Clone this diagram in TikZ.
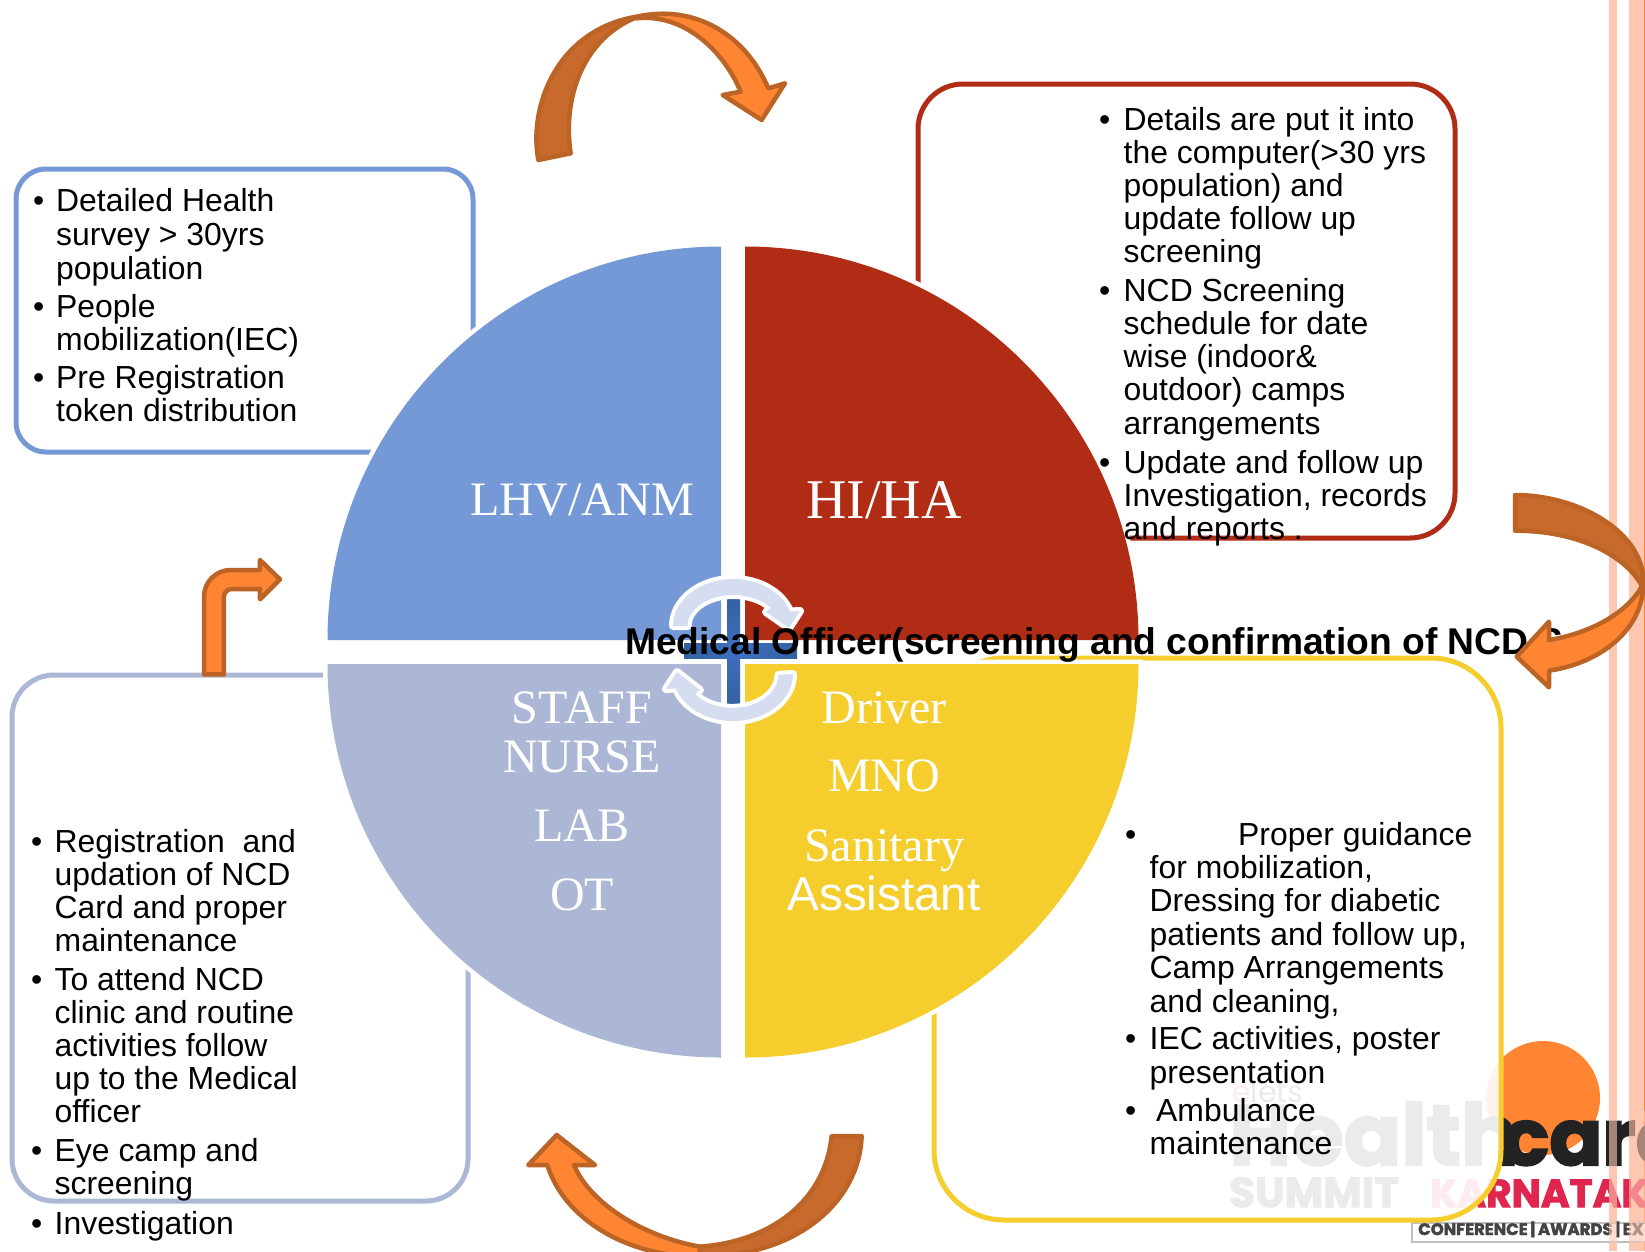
\documentclass[tikz,border=0pt]{standalone}
\usepackage{fontspec}
\setmainfont{Liberation Sans}
\newfontfamily\serifq{Liberation Serif}
\newfontfamily\logof[BoldFeatures={FakeBold=2.5}]{Poppins}
\definecolor{qblue}{HTML}{7599D6}
\definecolor{qred}{HTML}{B02C14}
\definecolor{qperi}{HTML}{ABB7D5}
\definecolor{qyel}{HTML}{F5CE2D}
\definecolor{arrD}{HTML}{C86A2B}
\definecolor{arrL}{HTML}{FF8533}
\definecolor{arrE}{HTML}{BC6326}
\definecolor{stripe}{HTML}{FEC7B2}
\definecolor{cyc}{HTML}{D6DDF0}
\definecolor{crossb}{HTML}{3F70C0}
\definecolor{crossd}{HTML}{33609F}
\definecolor{karn}{HTML}{E0254F}
\definecolor{logod}{HTML}{222222}
\tikzset{
  txt/.style={anchor=base west,inner sep=0pt,font=\fontsize{31.9}{33}\selectfont,text=black},
  ttl/.style={anchor=base west,inner sep=0pt,font=\fontsize{37.2}{38}\selectfont\bfseries,text=black},
  qlab/.style={anchor=base,inner sep=0pt,text=white,font=\fontsize{48}{48}\serifq},
  qsans/.style={anchor=base,inner sep=0pt,text=white,font=\fontsize{47.5}{47}\selectfont},
  pie/.style={fill=#1,preaction={draw=white,line width=9pt}},
  ibox/.style={line width=5pt,fill=white,rounded corners=#1},
  bigarrow/.style={draw=arrE,line width=4.5pt,line join=round},
  cycarrow/.style={fill=cyc,preaction={draw=white,line width=8pt,line join=round}},
  logotxt/.style={anchor=base west,inner sep=0pt},
}
\newcommand{\bul}[3]{\node[txt] (#1) at (#2,#3) {•};}
\newcommand{\para}[5]{\foreach \t [count=\i] in {#5}{\node[txt] (#1\i) at (#2,{#3+(\i-1)*#4}) {\t};}}
\begin{document}
\begin{tikzpicture}[x=1pt,y=-1pt]
\clip (0,0) rectangle (1645,1251);
\fill[white] (0,0) rectangle (1645,1251);
% slide stripes
\fill[stripe] (1609,0) rectangle (1617,1251);
\fill[stripe] (1629,0) rectangle (1645,1251);
\fill[arrL] (1643.5,0) rectangle (1645,1251);
% logo
\fill[arrL] (1543,1098) circle (57);
\node[logotxt,text=logod,font=\fontsize{85}{86}\logof\bfseries] (lhealth) at (1229,1165) {Health};
\node[logotxt,text=logod,font=\fontsize{78}{80}\logof\bfseries] (lcare) at (1502,1165) {care};
\node[logotxt,text=karn,font=\fontsize{39}{39}\logof\bfseries] (lkar) at (1430,1207) {KARNATAK};
\node[logotxt,text=logod,font=\fontsize{42}{42}\logof\bfseries] (lsum) at (1229,1207) {SUMMIT};
\node[logotxt,text=logod,font=\fontsize{30}{30}\logof] (lets) at (1232,1102) {\textcolor{karn}{e}lets};
\draw[black!25,line width=1.5pt,fill=white] (1412,1223) rectangle (1660,1242);
\node[logotxt,text=logod!85,font=\fontsize{16.5}{17}\logof\bfseries] (lconf) at (1418,1235) {CONFERENCE\,|\,AWARDS\,|\,EX};
\fill[stripe,opacity=.6] (1609,1110) rectangle (1617,1251);
\fill[stripe,opacity=.6] (1629,1110) rectangle (1645,1251);
% text boxes
\draw[qblue,ibox=30pt] (16,169) rectangle (473,452);
\draw[qred,ibox=45pt] (918,84) rectangle (1455,538);
\draw[qperi,ibox=42pt] (12,675) rectangle (468,1201);
\path[fill=white,fill opacity=.91,rounded corners=70pt] (934,658) rectangle (1501,1220);
\draw[qyel,line width=5pt,rounded corners=70pt] (934,658) rectangle (1501,1220);
% quadrants
\path[pie=qblue] (721,640) -- (327.5,640) arc[start angle=180,end angle=270,radius=393.5] -- cycle;
\path[pie=qred] (745,640) -- (745,246.5) arc[start angle=270,end angle=360,radius=393.5] -- cycle;
\path[pie=qperi] (721,664) -- (721,1057.5) arc[start angle=90,end angle=180,radius=393.5] -- cycle;
\path[pie=qyel] (745,664) -- (1138.5,664) arc[start angle=0,end angle=90,radius=393.5] -- cycle;
\node[qlab] (qa) at (582,515) {LHV/ANM};
\node[qlab,font=\fontsize{56}{56}\serifq] (qb) at (884,518) {HI/HA};
\node[qlab] (qc1) at (582,723) {STAFF};
\node[qlab] (qc2) at (582,772) {NURSE};
\node[qlab] (qc3) at (582,841) {LAB};
\node[qlab] (qc4) at (582,910) {OT};
\node[qlab] (qd1) at (884,723) {Driver};
\node[qlab] (qd2) at (884,791) {MNO};
\node[qlab] (qd3) at (884,861) {Sanitary};
\node[qsans] (qd4) at (884,910) {Assistant};
% central cross
\shade[left color=crossd,right color=crossd,middle color=crossb] (684,643) rectangle (797,658);
\shade[top color=crossd,bottom color=crossd,middle color=crossb] (727,595) rectangle (740,709);
% central cycle arrows
\path[cycarrow] (673,626) arc[start angle=180,end angle=342,x radius=60,y radius=47] -- (800,611) -- (789,628) -- (766,612) -- (771,608) arc[start angle=324.5,end angle=180,x radius=46,y radius=31] -- cycle;
\path[cycarrow] (793,674) arc[start angle=0,end angle=162,x radius=60,y radius=47] -- (666,689) -- (677,672) -- (700,690) -- (695,694) arc[start angle=144.5,end angle=0,x radius=46,y radius=33] -- cycle;
% texts
\bul{bb1}{33}{211}\bul{bb2}{33}{317}\bul{bb3}{33}{388}
\para{ba}{56}{211}{34}{Detailed Health,survey > 30yrs,population}
\para{bc}{56}{317}{33.5}{People,mobilization(IEC)}
\para{bd}{56}{388}{33.5}{Pre Registration,token distribution}
\bul{rb1}{1099}{130}\bul{rb2}{1099}{301}\bul{rb3}{1099}{473}
\para{ra}{1123.5}{130}{33.2}{Details are put it into,the computer(>30 yrs,population) and,update follow up,screening}
\para{rc}{1123.5}{301}{33.3}{NCD Screening,schedule for date,wise (indoor\&,outdoor) camps,arrangements}
\para{rd}{1123.5}{473}{33.2}{Update and follow up,{Investigation, records},and reports .}
\bul{pb1}{31}{852}\bul{pb2}{31}{990}\bul{pb3}{31}{1161}\bul{pb4}{31}{1234}
\para{pa}{54.5}{852}{33.3}{Registration\ \ and,updation of NCD,Card and proper,maintenance}
\para{pc}{54.5}{990}{33.2}{To attend NCD,clinic and routine,activities follow,up to the Medical,officer}
\para{pd}{54.5}{1161}{33}{Eye camp and,screening}
\para{pe}{54.5}{1234}{33}{Investigation}
\bul{yb1}{1125}{845.5}\bul{yb2}{1125}{1049}\bul{yb3}{1125}{1121}
\node[txt] (ya1) at (1238,845.5) {Proper guidance};
\para{yc}{1149.5}{878.5}{33.4}{{for mobilization,},{Dressing for diabetic},{patients and follow up,},Camp Arrangements,{and cleaning,}}
\para{yd}{1149.5}{1049}{34}{{IEC activities, poster},presentation}
\node[txt] (ye1) at (1156,1121) {Ambulance};
\node[txt] (ye2) at (1149.5,1154) {maintenance};
\node[ttl] (title) at (625,654) {Medical Officer(screening and confirmation of NCD S:};
% small bent arrow
\begin{scope}[shift={(180,540)},x=.3333pt,y=-.3333pt]
\draw[bigarrow,fill=arrL,line width=4.5pt] (72,403) -- (72,170) arc[start angle=180,end angle=270,radius=80] -- (240,90) -- (240,60) -- (300,118) -- (240,178) -- (240,147) -- (155,147) arc[start angle=270,end angle=180,radius=23] -- (132,403) -- cycle;
\end{scope}
% top arrow
\begin{scope}[shift={(500,0)},x=.3333pt,y=-.3333pt]
\draw[bigarrow,fill=arrL] (410,50) .. controls (590,10) and (740,110) .. (805,265) -- (855,250) -- (785,360) -- (668,285) -- (722,275) .. controls (670,150) and (550,40) .. (410,55) -- cycle;
\draw[bigarrow,fill=arrD] (115,480) .. controls (85,320) and (170,90) .. (410,50) -- (410,52) .. controls (260,110) and (185,280) .. (212,460) -- cycle;
\end{scope}
% right arrow
\begin{scope}[shift={(1400,450)},x=.3333pt,y=-.3333pt]
\draw[bigarrow,fill=arrL] (730,400) .. controls (730,540) and (600,640) .. (447,662) -- (447,712) -- (350,620) -- (447,515) -- (447,570) .. controls (570,550) and (680,490) .. (725,410) -- cycle;
\draw[bigarrow,fill=arrD] (345,135) .. controls (540,135) and (735,250) .. (730,400) -- (727,410) .. controls (680,320) and (540,242) .. (345,242) -- cycle;
\end{scope}
% bottom arrow
\begin{scope}[shift={(510,1110)},x=.3333pt,y=-.3333pt]
\draw[bigarrow,fill=arrL] (570,410) .. controls (400,380) and (240,280) .. (192,165) -- (255,165) -- (140,75) -- (55,165) -- (112,165) .. controls (160,320) and (340,440) .. (570,440) -- cycle;
\draw[bigarrow,fill=arrD] (1055,78) .. controls (1050,260) and (880,440) .. (570,440) -- (570,410) .. controls (780,395) and (945,275) .. (965,78) -- cycle;
\end{scope}
\end{tikzpicture}
\end{document}
